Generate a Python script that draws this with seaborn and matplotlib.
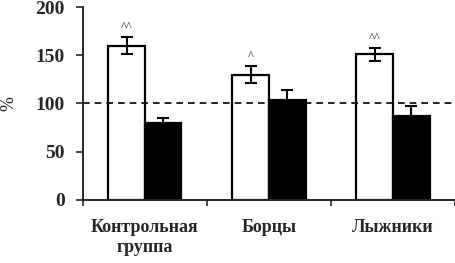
import matplotlib
matplotlib.use("Agg")
import matplotlib.pyplot as plt
import seaborn as sns
import pandas as pd
import numpy as np

groups = ["Контрольная\nгруппа", "Борцы", "Лыжники"]
series = ["A", "B"]
values_a = [160, 130, 151]
values_b = [80, 104, 87]
err_a = [9, 9, 7]
err_b = [5, 10, 10]
marks = ["^^", "^", "^^"]

df = pd.DataFrame({
    "group": groups * 2,
    "series": [series[0]] * 3 + [series[1]] * 3,
    "value": values_a + values_b,
    "err": err_a + err_b,
})

sns.set_style("ticks")
plt.rcParams["font.family"] = ["Liberation Serif", "DejaVu Serif"]

fig = plt.figure(figsize=(4.55, 2.63), dpi=100)
ax = fig.add_axes([0.182, 0.24, 0.818, 0.733])

sns.barplot(
    df, x="group", y="value", hue="series",
    palette={"A": "white", "B": "black"},
    edgecolor="black", linewidth=1.6,
    width=0.59, errorbar=None, legend=False, ax=ax,
)

for bars, errs in zip(ax.containers, [err_a, err_b]):
    for rect, e in zip(bars, errs):
        cx = rect.get_x() + rect.get_width() / 2
        ax.errorbar(cx, rect.get_height(), yerr=e, fmt="none",
                    ecolor="black", elinewidth=1.5, capsize=4, capthick=1.5)

for rect, e, m in zip(ax.containers[0], err_a, marks):
    cx = rect.get_x() + rect.get_width() / 2
    ax.text(cx, rect.get_height() + e + 4, m, ha="center", va="bottom",
            fontsize=9)

ax.axhline(100, color="black", linestyle=(0, (4, 3)), linewidth=1.2)

ax.set_ylim(0, 200)
ax.set_xlim(-0.5, 2.5)
ax.set_yticks([0, 50, 100, 150, 200])
ax.set_xticks([-0.5, 0.5, 1.5, 2.5], minor=True)
ax.tick_params(axis="x", which="major", length=0, pad=14, labelsize=13)
ax.tick_params(axis="x", which="minor", length=4, width=1.2, direction="out")
ax.tick_params(axis="y", length=5, width=1.2, direction="out", labelsize=14, pad=8)
for lbl in ax.get_yticklabels() + ax.get_xticklabels():
    lbl.set_fontweight("bold")
ax.set_xlabel("")
ax.set_ylabel("%", fontsize=13)
ax.yaxis.set_label_coords(-0.177, 0.5)
sns.despine(ax=ax)
for s in ["left", "bottom"]:
    ax.spines[s].set_linewidth(1.4)

fig.savefig("out.png", dpi=100)
